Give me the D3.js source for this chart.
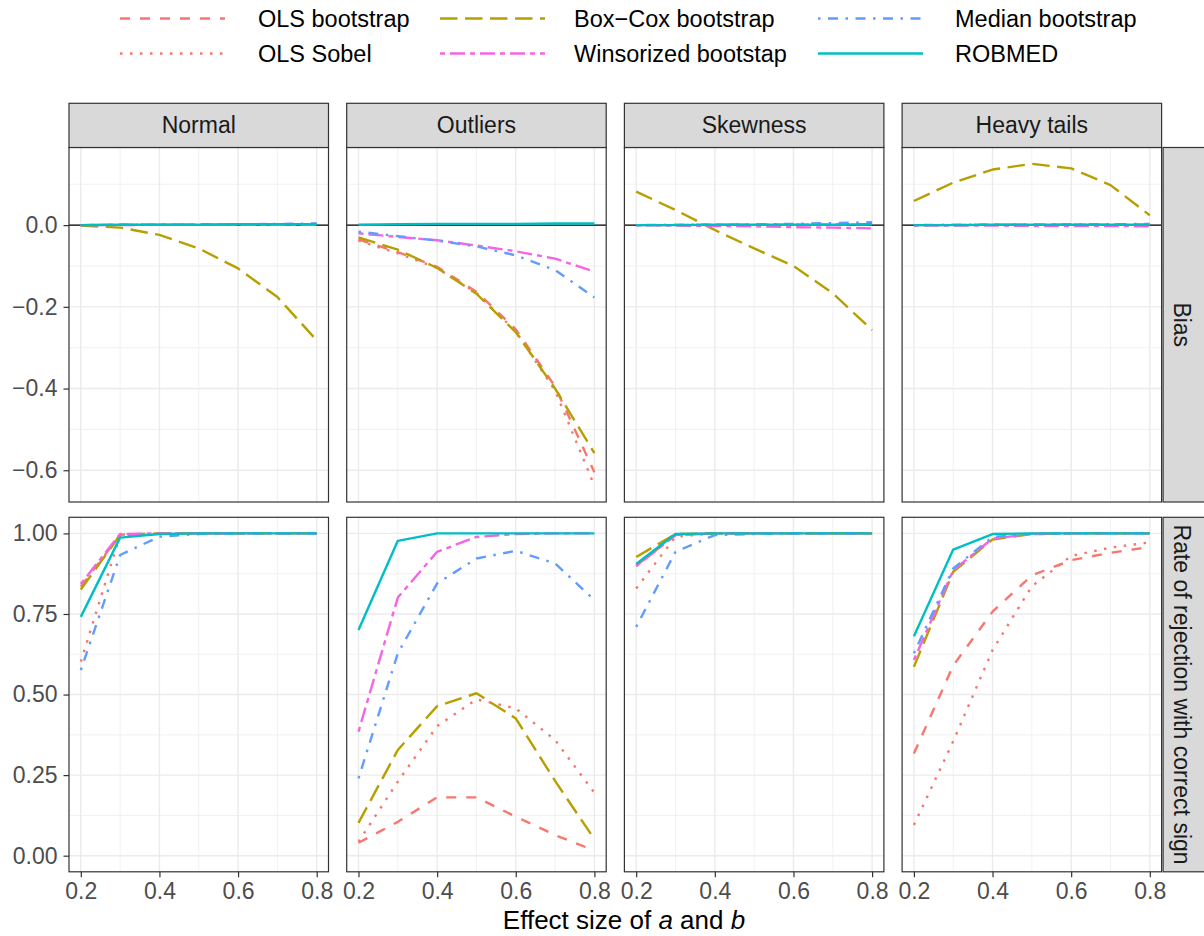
<!DOCTYPE html>
<html><head><meta charset="utf-8">
<script src="https://cdn.jsdelivr.net/npm/d3@7"></script>
<style>
body{margin:0;background:#fff}
text{font-family:"Liberation Sans",Arial,Helvetica,sans-serif}
</style>
</head><body><svg id="chart" width="1204" height="936"></svg>
<script>
// ---------------- DATA ----------------
const effectSizes = [0.2, 0.3, 0.4, 0.5, 0.6, 0.7, 0.8];
const distributions = ["Normal", "Outliers", "Skewness", "Heavy tails"];
const measures = ["Bias", "Rate of rejection with correct sign"];
const methods = ["OLS bootstrap", "OLS Sobel", "Box\u2212Cox bootstrap", "Winsorized bootstap", "Median bootstrap", "ROBMED"];

const xTicks = [0.2, 0.4, 0.6, 0.8];
const biasTicks = [-0.6, -0.4, -0.2, 0.0];
const biasTickLabels = ["\u22120.6", "\u22120.4", "\u22120.2", "0.0"];
const rateTicks = [0, 0.25, 0.5, 0.75, 1];
const rateTickLabels = ["0.00", "0.25", "0.50", "0.75", "1.00"];

// Bias, rows = Normal, Outliers, Skewness, Heavy tails
const biasOLSBootstrap = [
  [0.000, 0.001, 0.001, 0.001, 0.002, 0.002, 0.002],
  [-0.035, -0.066, -0.102, -0.163, -0.255, -0.395, -0.605],
  [0.000, 0.000, 0.001, 0.001, 0.001, 0.002, 0.002],
  [0.000, 0.000, 0.001, 0.001, 0.001, 0.001, 0.002]
];
const biasOLSSobel = [
  [0.000, 0.001, 0.001, 0.001, 0.002, 0.002, 0.002],
  [-0.038, -0.069, -0.105, -0.166, -0.260, -0.405, -0.638],
  [0.000, 0.000, 0.001, 0.001, 0.001, 0.002, 0.002],
  [0.000, 0.000, 0.001, 0.001, 0.001, 0.001, 0.002]
];
const biasBoxCox = [
  [-0.001, -0.006, -0.024, -0.057, -0.106, -0.176, -0.282],
  [-0.030, -0.060, -0.105, -0.168, -0.262, -0.400, -0.558],
  [0.082, 0.037, -0.012, -0.057, -0.100, -0.167, -0.257],
  [0.059, 0.104, 0.136, 0.150, 0.139, 0.098, 0.024]
];
const biasWinsorized = [
  [0.000, 0.000, 0.001, 0.001, 0.001, 0.001, 0.001],
  [-0.020, -0.029, -0.037, -0.050, -0.064, -0.082, -0.114],
  [0.000, -0.001, -0.002, -0.003, -0.005, -0.006, -0.008],
  [-0.001, -0.001, -0.001, -0.002, -0.002, -0.002, -0.003]
];
const biasMedian = [
  [0.000, 0.001, 0.001, 0.002, 0.002, 0.003, 0.004],
  [-0.016, -0.027, -0.038, -0.052, -0.074, -0.110, -0.177],
  [0.000, 0.001, 0.001, 0.002, 0.003, 0.005, 0.007],
  [0.000, 0.001, 0.001, 0.001, 0.002, 0.002, 0.003]
];
const biasROBMED = [
  [0.000, 0.001, 0.001, 0.001, 0.002, 0.002, 0.002],
  [0.001, 0.002, 0.003, 0.003, 0.003, 0.004, 0.004],
  [0.000, 0.000, 0.001, 0.001, 0.001, 0.001, 0.002],
  [0.000, 0.000, 0.001, 0.001, 0.001, 0.001, 0.001]
];

// Rate of rejection with correct sign
const rateOLSBootstrap = [
  [0.835, 0.996, 1, 1, 1, 1, 1],
  [0.040, 0.105, 0.181, 0.181, 0.121, 0.064, 0.016],
  [0.900, 0.995, 1, 1, 1, 1, 1],
  [0.317, 0.590, 0.757, 0.870, 0.917, 0.940, 0.958]
];
const rateOLSSobel = [
  [0.602, 0.994, 1, 1, 1, 1, 1],
  [0.043, 0.230, 0.402, 0.485, 0.457, 0.359, 0.195],
  [0.829, 0.990, 1, 1, 1, 1, 1],
  [0.095, 0.355, 0.638, 0.836, 0.930, 0.956, 0.972]
];
const rateBoxCox = [
  [0.826, 0.995, 1, 1, 1, 1, 1],
  [0.102, 0.328, 0.464, 0.504, 0.426, 0.232, 0.051],
  [0.927, 0.998, 1, 1, 1, 1, 1],
  [0.586, 0.881, 0.981, 0.998, 1, 1, 1]
];
const rateWinsorized = [
  [0.843, 0.998, 1, 1, 1, 1, 1],
  [0.385, 0.801, 0.943, 0.989, 0.998, 1, 1],
  [0.898, 0.995, 1, 1, 1, 1, 1],
  [0.607, 0.886, 0.984, 0.998, 1, 1, 1]
];
const rateMedian = [
  [0.576, 0.933, 0.990, 0.998, 1, 1, 1],
  [0.240, 0.628, 0.845, 0.922, 0.946, 0.907, 0.793],
  [0.710, 0.943, 0.995, 0.998, 1, 1, 1],
  [0.628, 0.891, 0.989, 0.999, 1, 1, 1]
];
const rateROBMED = [
  [0.741, 0.987, 0.998, 1, 1, 1, 1],
  [0.700, 0.977, 1, 1, 1, 1, 1],
  [0.905, 0.998, 1, 1, 1, 1, 1],
  [0.681, 0.950, 0.998, 1, 1, 1, 1]
];

const biasSeries = [biasOLSBootstrap, biasOLSSobel, biasBoxCox, biasWinsorized, biasMedian, biasROBMED];
const rateSeries = [rateOLSBootstrap, rateOLSSobel, rateBoxCox, rateWinsorized, rateMedian, rateROBMED];

// ---------------- STYLE / LAYOUT ----------------
const colors = ["#F8766D", "#F8766D", "#B79F00", "#F564E3", "#619CFF", "#00BFC4"];
const LW = 2.4, U = 2.5;
const dashPatterns = [[4,4],[1,3],[7,3],[2,2,6,2],[1,3,4,3],null];
const dashArr = p => p ? p.map(v => v*U).join(" ") : null;

const colLeft = [69, 346.7, 624.4, 902.1];
const panelW = 259.5;
const rowTop = [147.5, 517.3];
const panelH = 354.5;
const stripTop = 103.3;
const yDomains = [[-0.6777, 0.190], [-0.05, 1.05]];
const FONT = '"Liberation Sans",Arial,Helvetica,sans-serif';

const svg = d3.select("#chart");

function xScale(c){ return d3.scaleLinear().domain([0.17, 0.83]).range([colLeft[c], colLeft[c] + panelW]); }
function yScale(r){ return d3.scaleLinear().domain(yDomains[r]).range([rowTop[r] + panelH, rowTop[r]]); }

const xMinor = [0.3, 0.5, 0.7];
const yMinor = [[-0.5, -0.3, -0.1, 0.1], [0.125, 0.375, 0.625, 0.875]];
const yMajor = [biasTicks, rateTicks];

for (let r = 0; r < 2; r++) {
  for (let c = 0; c < 4; c++) {
    const x = xScale(c), y = yScale(r);
    const g = svg.append("g");
    const L = colLeft[c], T = rowTop[r], R = L + panelW, B = T + panelH;
    g.append("rect").attr("x", L).attr("y", T).attr("width", panelW).attr("height", panelH).attr("fill", "#fff");
    xMinor.forEach(v => g.append("line").attr("x1", x(v)).attr("x2", x(v)).attr("y1", T).attr("y2", B).attr("stroke", "#EBEBEB").attr("stroke-width", 0.7));
    yMinor[r].forEach(v => g.append("line").attr("x1", L).attr("x2", R).attr("y1", y(v)).attr("y2", y(v)).attr("stroke", "#EBEBEB").attr("stroke-width", 0.7));
    xTicks.forEach(v => g.append("line").attr("x1", x(v)).attr("x2", x(v)).attr("y1", T).attr("y2", B).attr("stroke", "#EBEBEB").attr("stroke-width", 1.4));
    yMajor[r].forEach(v => g.append("line").attr("x1", L).attr("x2", R).attr("y1", y(v)).attr("y2", y(v)).attr("stroke", "#EBEBEB").attr("stroke-width", 1.4));
    if (r === 0) {
      g.append("line").attr("x1", L).attr("x2", R).attr("y1", y(0)).attr("y2", y(0)).attr("stroke", "#000").attr("stroke-width", 1.2);
    }
    const series = r === 0 ? biasSeries : rateSeries;
    const line = d3.line().x(d => x(d[0])).y(d => y(d[1]));
    series.forEach((s, m) => {
      const pts = effectSizes.map((e, i) => [e, s[c][i]]);
      g.append("path").attr("d", line(pts)).attr("fill", "none")
        .attr("stroke", colors[m]).attr("stroke-width", LW)
        .attr("stroke-dasharray", dashArr(dashPatterns[m]))
        .attr("stroke-linejoin", "round");
    });
    g.append("rect").attr("x", L).attr("y", T).attr("width", panelW).attr("height", panelH)
      .attr("fill", "none").attr("stroke", "#333").attr("stroke-width", 1.2);

    if (c === 0) {
      const ax = d3.axisLeft(y).tickValues(yMajor[r]).tickSize(5.5).tickPadding(6)
        .tickFormat((d, i) => (r === 0 ? biasTickLabels : rateTickLabels)[i]);
      const ag = svg.append("g").attr("transform", `translate(${L},0)`).call(ax);
      ag.select(".domain").remove();
      ag.selectAll(".tick line").attr("stroke", "#333").attr("stroke-width", 1.2);
      ag.selectAll(".tick text").attr("fill", "#4D4D4D").style("font-size", "23px").style("font-family", FONT);
    }
    if (r === 1) {
      const ax = d3.axisBottom(x).tickValues(xTicks).tickSize(5.5).tickPadding(5.5).tickFormat(d3.format(".1f"));
      const ag = svg.append("g").attr("transform", `translate(0,${B})`).call(ax);
      ag.select(".domain").remove();
      ag.selectAll(".tick line").attr("stroke", "#333").attr("stroke-width", 1.2);
      ag.selectAll(".tick text").attr("fill", "#4D4D4D").style("font-size", "23px").style("font-family", FONT);
    }
  }
}

// top strips
distributions.forEach((d, c) => {
  const L = colLeft[c];
  svg.append("rect").attr("x", L).attr("y", stripTop).attr("width", panelW).attr("height", rowTop[0] - stripTop)
    .attr("fill", "#D9D9D9").attr("stroke", "#333").attr("stroke-width", 1.2);
  svg.append("text").attr("x", L + panelW / 2).attr("y", (stripTop + rowTop[0]) / 2)
    .attr("text-anchor", "middle").attr("dominant-baseline", "central")
    .attr("fill", "#1A1A1A").style("font-size", "23px").text(d);
});
// right strips
const rsL = colLeft[3] + panelW + 1.5;
measures.forEach((m, r) => {
  svg.append("rect").attr("x", rsL).attr("y", rowTop[r]).attr("width", 50).attr("height", panelH)
    .attr("fill", "#D9D9D9").attr("stroke", "#333").attr("stroke-width", 1.2);
  const cy = rowTop[r] + panelH / 2;
  svg.append("text").attr("transform", `translate(${rsL + 18.5},${cy}) rotate(90)`)
    .attr("text-anchor", "middle").attr("dominant-baseline", "central")
    .attr("fill", "#1A1A1A").style("font-size", "23px").text(m);
});

// x-axis title
const xt = svg.append("text").attr("x", 624).attr("y", 929)
  .attr("text-anchor", "middle").attr("fill", "#000").style("font-size", "26px");
xt.append("tspan").text("Effect size of ");
xt.append("tspan").style("font-style", "italic").text("a");
xt.append("tspan").text(" and ");
xt.append("tspan").style("font-style", "italic").text("b");

// legend (column-major, 2 rows)
const legKeyX = [120, 440, 818];
const legTextX = [258, 574, 955];
const legRowY = [18.5, 53.5];
const keyLen = 105;
methods.forEach((m, i) => {
  const col = Math.floor(i / 2), row = i % 2;
  const yy = legRowY[row];
  svg.append("line").attr("x1", legKeyX[col]).attr("x2", legKeyX[col] + keyLen).attr("y1", yy).attr("y2", yy)
    .attr("stroke", colors[i]).attr("stroke-width", LW).attr("stroke-dasharray", dashArr(dashPatterns[i]));
  svg.append("text").attr("x", legTextX[col]).attr("y", yy).attr("dominant-baseline", "central")
    .attr("fill", "#000").style("font-size", "23.5px").text(m);
});
</script>
</body></html>
